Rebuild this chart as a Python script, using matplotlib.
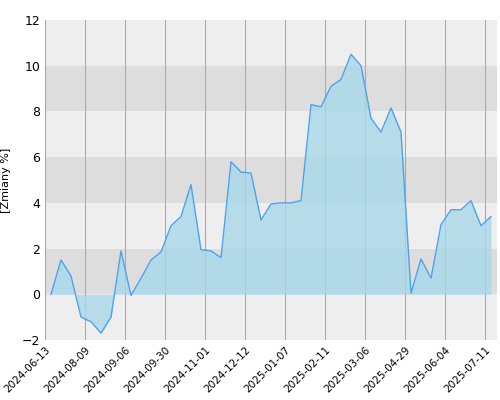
import matplotlib.pyplot as plt
import numpy as np

values = [0, 1.5, 0.8, -1.0, -1.2, -1.7, -1.0, 1.9, -0.05, 0.7, 1.5, 1.85, 3.0, 3.4, 4.8,
          1.95, 1.9, 1.6, 5.8, 5.35, 5.3, 3.25, 3.95, 4.0, 4.0, 4.1, 8.3, 8.2, 9.1, 9.4,
          10.5, 10.0, 7.7, 7.1, 8.15, 7.1, 0.05, 1.55, 0.7, 3.05, 3.7, 3.7, 4.1, 3.0, 3.4]
tick_labels = ["2024-06-13", "2024-08-09", "2024-09-06", "2024-09-30", "2024-11-01",
               "2024-12-12", "2025-01-07", "2025-02-11", "2025-03-06", "2025-04-29",
               "2025-06-04", "2025-07-11"]

fig = plt.figure(figsize=(5, 4), dpi=100)
ax = fig.add_axes([0.09, 0.15, 0.904, 0.80])

# point spacing ~10.1px, ticks every 4 points, first tick 0.6 point before first value
x = np.arange(len(values))
ticks = -0.6 + 4 * np.arange(len(tick_labels))
ax.set_xlim(-0.6, len(values) - 1 + 0.6)
ax.set_ylim(-2, 12)

for lo in range(-2, 12, 2):
    ax.axhspan(lo, lo + 2, color="#dddddd" if (lo // 2) % 2 == 0 else "#eeeeee", zorder=0, lw=0)
for t in ticks:
    ax.axvline(t, color="#aaaaaa", lw=0.8, zorder=1)

ax.fill_between(x, values, 0, color="#a8d8ea", alpha=0.8, zorder=2, lw=0)
ax.plot(x, values, color="#4da3f0", lw=1, zorder=3)

ax.set_xticks(ticks)
ax.set_xticklabels(tick_labels, rotation=45, ha="right", rotation_mode="anchor", fontsize=7.5)
ax.set_yticks(range(-2, 13, 2))
ax.tick_params(axis="y", labelsize=9, length=0)
ax.tick_params(axis="x", length=0)
ax.set_ylabel("[Zmiany %]", fontsize=8, labelpad=8)
for s in ax.spines.values():
    s.set_visible(False)

fig.savefig("out.png")
